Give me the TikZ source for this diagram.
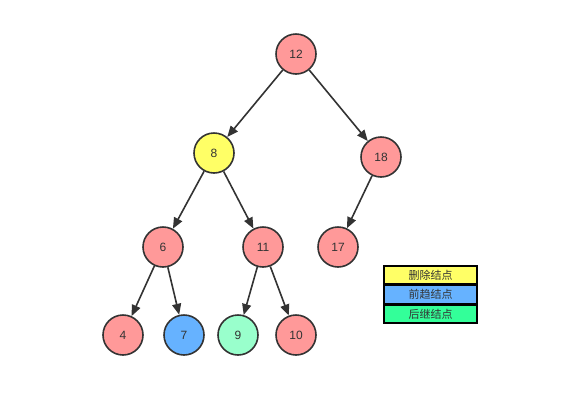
\documentclass[tikz,border=0pt]{standalone}
\usepackage{fontspec}
\setmainfont{Liberation Sans}
\newfontfamily\cjk{Noto Sans CJK SC}
\definecolor{nodered}{RGB}{255, 153, 153}
\definecolor{nodeyellow}{RGB}{255, 255, 102}
\definecolor{nodeblue}{RGB}{102, 178, 255}
\definecolor{nodegreen}{RGB}{153, 255, 204}
\definecolor{keygreen}{RGB}{51, 255, 153}
\definecolor{linegray}{RGB}{51, 51, 51}
\usetikzlibrary{arrows.meta, positioning}

\tikzset{
  treenode/.style={circle, draw=linegray, line width=1.6pt, minimum size=40pt, inner sep=0pt, font=\fontsize{12}{14}\selectfont, text=linegray},
  treeedge/.style={draw=linegray, line width=1.6pt, -{Triangle[length=11pt, width=9pt]}},
  keybox/.style={draw=black, line width=1.5pt, minimum width=93pt, minimum height=18pt, inner sep=0pt, font=\cjk\fontsize{11}{13}\selectfont, text=linegray}
}

\begin{document}
\begin{tikzpicture}[x=1pt, y=-1pt]
  \useasboundingbox (0,0) rectangle (585,408);
  % tree nodes
  \node[treenode, fill=nodered] (n12) at (296,54) {12};
  \node[treenode, fill=nodeyellow] (n8) at (214,153) {8};
  \node[treenode, fill=nodered] (n18) at (381,157) {18};
  \node[treenode, fill=nodered] (n6) at (163,247) {6};
  \node[treenode, fill=nodered] (n11) at (263,247) {11};
  \node[treenode, fill=nodered] (n17) at (338,247) {17};
  \node[treenode, fill=nodered] (n4) at (123,335) {4};
  \node[treenode, fill=nodeblue] (n7) at (184,335) {7};
  \node[treenode, fill=nodegreen] (n9) at (238,335) {9};
  \node[treenode, fill=nodered] (n10) at (296,335) {10};
  % edges
  \draw[treeedge] (n12) -- (n8);
  \draw[treeedge] (n12) -- (n18);
  \draw[treeedge] (n8) -- (n6);
  \draw[treeedge] (n8) -- (n11);
  \draw[treeedge] (n18) -- (n17);
  \draw[treeedge] (n6) -- (n4);
  \draw[treeedge] (n6) -- (n7);
  \draw[treeedge] (n11) -- (n9);
  \draw[treeedge] (n11) -- (n10);
  % legend
  \node[keybox, fill=nodeyellow] (keydel) at (430.5,275) {删除结点};
  \node[keybox, fill=nodeblue, below=0pt of keydel] (keypre) {前趋结点};
  \node[keybox, fill=keygreen, below=0pt of keypre] (keysuc) {后继结点};
\end{tikzpicture}
\end{document}
